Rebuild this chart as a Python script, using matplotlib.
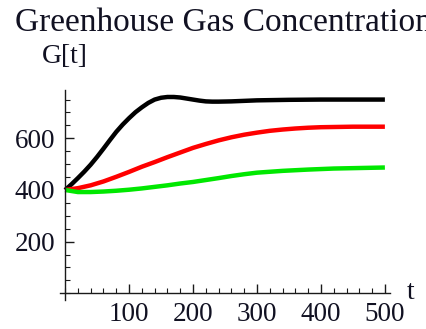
# Greenhouse gas concentration G[t] for three emission scenarios

import matplotlib
matplotlib.use('Agg')
import matplotlib.pyplot as plt
from matplotlib.ticker import MultipleLocator

t_black = [0, 10, 20, 30, 40, 50, 60, 70, 80, 90, 100, 110, 120, 130, 140, 150, 160, 170, 180,
           190, 200, 210, 220, 230, 240, 260, 280, 300, 350, 400, 450, 500]
g_black = [400, 422, 446, 471, 498, 528, 560, 593, 625, 653, 678, 701, 720, 737, 750, 757, 760, 760, 758,
           754, 750, 746, 743, 742, 742, 743, 745, 747, 749, 750, 750, 750]

t_red = [0, 20, 40, 60, 80, 100, 120, 140, 160, 180, 200, 220, 240, 260, 280, 300, 320, 340, 360, 380, 400, 450, 500]
g_red = [400, 407, 418, 433, 451, 470, 490, 508, 527, 545, 563, 578, 592, 604, 614, 622, 629, 634, 638, 641, 643, 645, 645]

t_green = [0, 20, 40, 60, 80, 100, 120, 140, 160, 180, 200, 240, 260, 280, 300, 340, 380, 420, 460, 500]
g_green = [400, 392, 392, 394, 397, 401, 406, 412, 418, 425, 431, 446, 454, 461, 467, 474, 479, 483, 485, 487]

plt.rcParams['font.family'] = ['Liberation Serif', 'DejaVu Serif']
txt = '#111122'

fig = plt.figure(figsize=(4.26, 3.29), dpi=100)
ax = fig.add_axes([0.1408, 0.0881, 0.7747, 0.6383])

for tt, gg, c in [(t_black, g_black, 'black'), (t_red, g_red, '#ff0000'), (t_green, g_green, '#00e800')]:
    ax.plot(tt, gg, color=c, lw=3.2, solid_capstyle='butt', solid_joinstyle='round')

ax.set_xlim(-8, 508)
ax.set_ylim(-26, 787)

for s in ['top', 'right']:
    ax.spines[s].set_visible(False)
ax.spines['left'].set_position(('data', 0))
ax.spines['bottom'].set_position(('data', 0))
for s in ['left', 'bottom']:
    ax.spines[s].set_linewidth(1.0)
    ax.spines[s].set_color('#1a1a1a')

ax.xaxis.set_minor_locator(MultipleLocator(20))
ax.yaxis.set_minor_locator(MultipleLocator(50))
ax.set_xticks([100, 200, 300, 400, 500])
ax.set_yticks([200, 400, 600])

ax.tick_params(axis='both', which='major', direction='in', length=6.5, width=1,
               color='#1a1a1a', labelsize=19.5, labelcolor=txt)
ax.tick_params(axis='both', which='minor', direction='in', length=3.5, width=0.8,
               color='#1a1a1a')
ax.tick_params(axis='x', which='major', pad=6)
ax.tick_params(axis='y', which='major', pad=7)

fig.text(0.035, 0.905, 'Greenhouse Gas Concentration', fontsize=24, color=txt, ha='left', va='baseline')
fig.text(0.098, 0.808, 'G[t]', fontsize=20, color=txt, ha='left', va='baseline')
fig.text(0.955, 0.112, 't', fontsize=20, color=txt, ha='left', va='center')

fig.savefig('out.png', dpi=100)
